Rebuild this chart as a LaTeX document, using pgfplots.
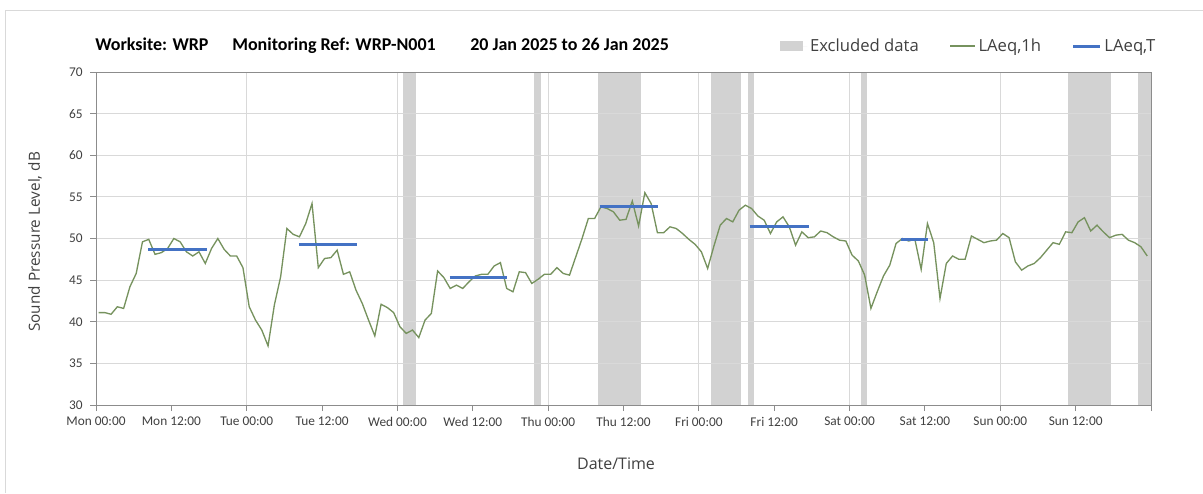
\documentclass[border=0pt]{standalone}
\usepackage{fontspec}
\setmainfont{Carlito}
\newfontfamily\legfont{Open Sans}
\newfontfamily\tickfont{Carlito}
\usepackage{pgfplots}
\usepackage{pgfplotstable}
\pgfplotsset{compat=1.18}
\pgfplotsset{set layers}
\definecolor{exclgray}{HTML}{D2D2D2}
\definecolor{gridgray}{HTML}{D9D9D9}
\definecolor{axgray}{HTML}{8C8C8C}
\definecolor{laeqgreen}{HTML}{76925E}
\definecolor{laeqblue}{HTML}{4472C4}
\definecolor{txt}{HTML}{404040}
\definecolor{framegray}{HTML}{D9D9D9}
\pgfplotsset{
  exclleg/.style={legend image code/.code={\fill[exclgray] (0pt,-3.75pt) rectangle (17.25pt,3.75pt); \path (0pt,0pt) -- (20.25pt,0pt);}},
  greenleg/.style={legend image code/.code={\draw[laeqgreen, line width=1pt] (0pt,0pt) -- (18.75pt,0pt);}},
  blueleg/.style={legend image code/.code={\draw[laeqblue, line width=2.25pt] (0pt,0pt) -- (20.25pt,0pt);}},
}

\pgfplotstableread{
h v
0.4 41.1
1.4 41.1
2.4 40.9
3.4 41.8
4.4 41.6
5.4 44.2
6.4 45.8
7.4 49.6
8.4 49.9
9.4 48.1
10.4 48.3
11.4 48.8
12.4 50.0
13.4 49.6
14.4 48.4
15.4 47.9
16.4 48.4
17.4 47.0
18.4 48.8
19.4 50.0
20.4 48.7
21.4 47.9
22.4 47.9
23.4 46.5
24.4 41.8
25.4 40.2
26.4 39.0
27.4 37.1
28.4 42.0
29.4 45.4
30.4 51.2
31.4 50.5
32.4 50.2
33.4 51.8
34.4 54.2
35.4 46.5
36.4 47.6
37.4 47.7
38.4 48.6
39.4 45.7
40.4 46.0
41.4 43.8
42.4 42.2
43.4 40.2
44.4 38.3
45.4 42.1
46.4 41.7
47.4 41.1
48.4 39.4
49.4 38.6
50.4 39.0
51.4 38.1
52.4 40.2
53.4 41.0
54.4 46.1
55.4 45.3
56.4 44.0
57.4 44.4
58.4 44.0
59.4 44.8
60.4 45.5
61.4 45.7
62.4 45.7
63.4 46.7
64.4 47.1
65.4 44.0
66.4 43.6
67.4 46.0
68.4 45.9
69.4 44.6
70.4 45.1
71.4 45.7
72.4 45.7
73.4 46.5
74.4 45.8
75.4 45.6
76.4 47.8
77.4 50.0
78.4 52.4
79.4 52.4
80.4 53.8
81.4 53.6
82.4 53.2
83.4 52.2
84.4 52.3
85.4 54.5
86.4 51.5
87.4 55.5
88.4 54.2
89.4 50.7
90.4 50.7
91.4 51.4
92.4 51.2
93.4 50.6
94.4 49.9
95.4 49.3
96.4 48.4
97.4 46.4
98.4 49.1
99.4 51.6
100.4 52.4
101.4 52.0
102.4 53.4
103.4 54.0
104.4 53.6
105.4 52.7
106.4 52.2
107.4 50.6
108.4 52.0
109.4 52.6
110.4 51.4
111.4 49.2
112.4 50.8
113.4 50.1
114.4 50.2
115.4 50.9
116.4 50.7
117.4 50.2
118.4 49.8
119.4 49.7
120.4 48.0
121.4 47.3
122.4 45.6
123.4 41.6
124.4 43.6
125.4 45.5
126.4 46.8
127.4 49.4
128.4 50.0
129.4 49.7
130.4 49.9
131.4 46.3
132.4 51.8
133.4 49.5
134.4 42.8
135.4 47.0
136.4 47.9
137.4 47.5
138.4 47.5
139.4 50.3
140.4 49.9
141.4 49.5
142.4 49.7
143.4 49.8
144.4 50.6
145.4 50.1
146.4 47.2
147.4 46.2
148.4 46.7
149.4 47.0
150.4 47.7
151.4 48.6
152.4 49.5
153.4 49.3
154.4 50.8
155.4 50.7
156.4 52.0
157.4 52.5
158.4 50.9
159.4 51.6
160.4 50.8
161.4 50.1
162.4 50.4
163.4 50.5
164.4 49.8
165.4 49.5
166.4 49.0
167.4 47.9
}\laeqdata

\pgfplotstableread{
h v
8.3 48.7
17.6 48.7
20 nan
32.3 49.3
41.5 49.3
45 nan
56.3 45.3
65.4 45.3
68 nan
80.2 53.8
89.5 53.8
92 nan
104.1 51.4
113.5 51.4
118 nan
128.2 49.9
132.5 49.9
}\laeqT

\begin{document}
\begin{tikzpicture}
\begin{axis}[
  at={(72pt,-303.75pt)}, anchor=south west,
  scale only axis, width=791.25pt, height=249.75pt,
  xmin=0, xmax=168, ymin=30, ymax=70,
  axis line style={draw=axgray, line width=0.75pt},
  tick align=outside, xtick pos=bottom, ytick pos=left,
  major tick length=4.5pt,
  tick style={draw=axgray, line width=0.75pt},
  xtick={0,12,...,168},
  xticklabels={Mon 00:00,Mon 12:00,Tue 00:00,Tue 12:00,Wed 00:00,Wed 12:00,Thu 00:00,Thu 12:00,Fri 00:00,Fri 12:00,Sat 00:00,Sat 12:00,Sun 00:00,Sun 12:00,{}},
  extra x ticks={24,48,...,144},
  extra x tick labels={},
  extra x tick style={xmajorgrids=true, major tick length=0pt},
  ytick={30,35,...,70},
  ymajorgrids,
  grid style={draw=gridgray, line width=0.75pt},
  /pgf/number format/assume math mode=true,
  xticklabel style={font=\tickfont\fontsize{10}{12}\selectfont, text=txt, yshift=-1pt},
  yticklabel style={font=\tickfont\fontsize{10}{12}\selectfont, text=txt, xshift=-2pt},
  xlabel={Date/Time},
  ylabel={Sound Pressure Level, dB},
  xlabel style={font=\legfont\fontsize{12}{14}\selectfont, text=txt, at={(axis description cs:0.5,0)}, anchor=center, yshift=-44.25pt, xshift=-5.6pt},
  ylabel style={font=\legfont\fontsize{11.5}{14}\selectfont, text=txt, at={(axis description cs:-0.0578,0.49)}, anchor=center},
  legend columns=3,
  legend style={at={(1.0107,1.078)}, anchor=east, draw=none, fill=none,
    font=\legfont\fontsize{12.5}{15}\selectfont, text=txt,
    /tikz/every even column/.append style={column sep=21pt},
    nodes={inner sep=2pt}},
]
\addplot[fill=exclgray, draw=none, on layer=axis background, exclleg]
  coordinates {(48.9,30) (48.9,70) (50.9,70) (50.9,30)};
\addlegendentry{Excluded data}
\addplot[fill=exclgray, draw=none, on layer=axis background, forget plot] coordinates {(69.8,30) (69.8,70) (70.9,70) (70.9,30)};
\addplot[fill=exclgray, draw=none, on layer=axis background, forget plot] coordinates {(79.9,30) (79.9,70) (86.8,70) (86.8,30)};
\addplot[fill=exclgray, draw=none, on layer=axis background, forget plot] coordinates {(97.9,30) (97.9,70) (102.7,70) (102.7,30)};
\addplot[fill=exclgray, draw=none, on layer=axis background, forget plot] coordinates {(103.8,30) (103.8,70) (104.8,70) (104.8,30)};
\addplot[fill=exclgray, draw=none, on layer=axis background, forget plot] coordinates {(121.8,30) (121.8,70) (122.8,70) (122.8,30)};
\addplot[fill=exclgray, draw=none, on layer=axis background, forget plot] coordinates {(154.8,30) (154.8,70) (161.6,70) (161.6,30)};
\addplot[fill=exclgray, draw=none, on layer=axis background, forget plot] coordinates {(165.9,30) (165.9,70) (168,70) (168,30)};
\addplot[laeqgreen, line width=1pt, mark=none, greenleg] table[x=h, y=v] {\laeqdata};
\addlegendentry{LAeq,1h}
\addplot[laeqblue, line width=2.25pt, mark=none, unbounded coords=jump, blueleg] table[x=h, y=v] {\laeqT};
\addlegendentry{LAeq,T}
\end{axis}
\node[anchor=base west, inner sep=0pt, font=\tickfont\bfseries\fontsize{13.5}{16}\selectfont] at (71.25pt,-37.5pt) {Worksite: WRP};
\node[anchor=base west, inner sep=0pt, font=\tickfont\bfseries\fontsize{13.5}{16}\selectfont] at (174pt,-37.5pt) {Monitoring Ref: WRP-N001};
\node[anchor=base west, inner sep=0pt, font=\tickfont\bfseries\fontsize{13.5}{16}\selectfont] at (352.5pt,-37.5pt) {20 Jan 2025 to 26 Jan 2025};
\draw[framegray, line width=0.75pt] (3.75pt,-369.75pt) -- (3.75pt,-7.5pt) -- (902.25pt,-7.5pt);
\pgfresetboundingbox
\path[use as bounding box] (0,0) rectangle (902.25pt,-369.75pt);
\end{tikzpicture}
\end{document}
